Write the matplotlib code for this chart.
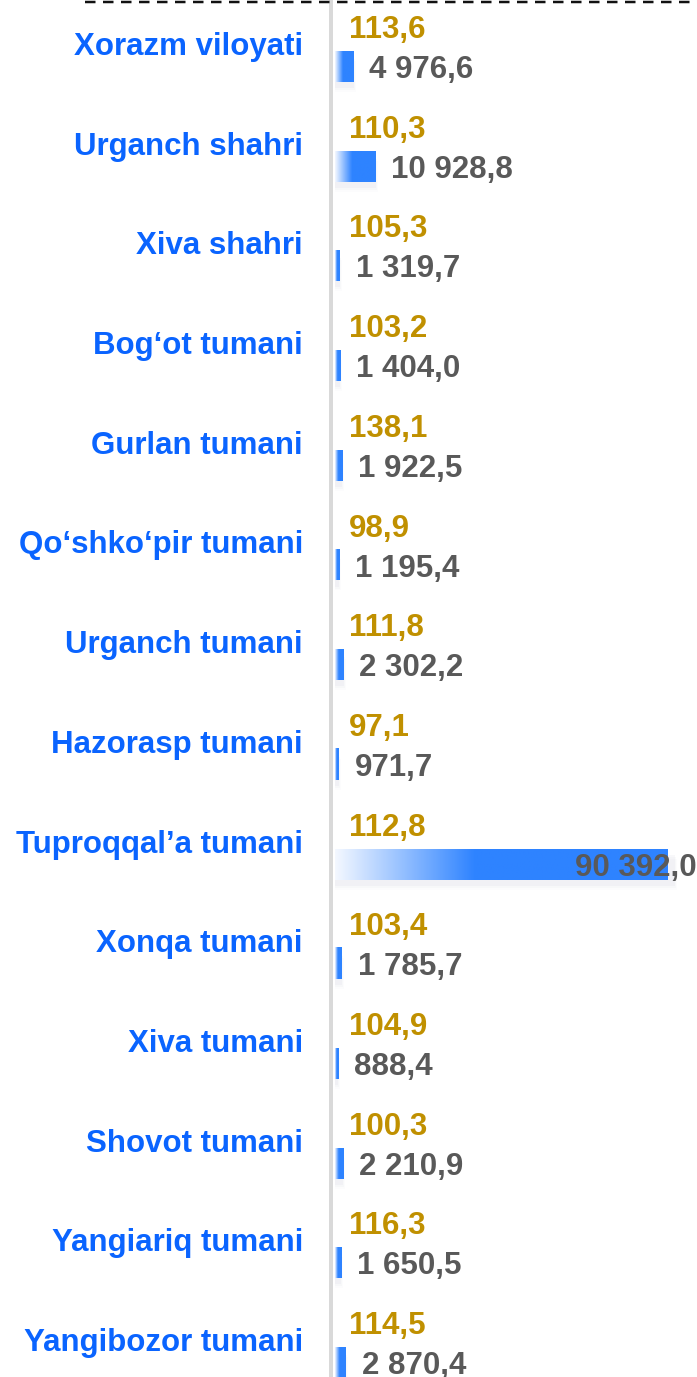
import matplotlib.pyplot as plt
import numpy as np
from matplotlib.colors import LinearSegmentedColormap
from matplotlib.lines import Line2D

# data
regions = ['Xorazm viloyati', 'Urganch shahri', 'Xiva shahri', 'Bog‘ot tumani',
           'Gurlan tumani', 'Qo‘shko‘pir tumani', 'Urganch tumani', 'Hazorasp tumani',
           'Tuproqqal’a tumani', 'Xonqa tumani', 'Xiva tumani', 'Shovot tumani',
           'Yangiariq tumani', 'Yangibozor tumani']
growth = [113.6, 110.3, 105.3, 103.2, 138.1, 98.9, 111.8, 97.1, 112.8, 103.4,
          104.9, 100.3, 116.3, 114.5]
volume = [4976.6, 10928.8, 1319.7, 1404.0, 1922.5, 1195.4, 2302.2, 971.7,
          90392.0, 1785.7, 888.4, 2210.9, 1650.5, 2870.4]

BLUE = '#2E83FF'
LABEL = '#0A64FF'
GOLD = '#C09000'
GRAY = '#595959'
FONT = 'Liberation Sans'
FS = 22.5
PX = 0.72  # points per pixel at dpi 100


def fmt(v):
    return f'{v:,.1f}'.replace(',', ' ').replace('.', ',')


def create_chart():
    W, H = 697, 1377
    fig = plt.figure(figsize=(W / 100, H / 100), dpi=100)
    x0 = 335
    ax = fig.add_axes([x0 / W, 0, (W - x0) / W, 1])

    # pixel layout of rows
    row0, step = 66.5, 99.7
    scale = 333 / max(volume)  # px per unit
    xmax = (W - x0) / scale
    bar_h = 31 / step

    cmap = LinearSegmentedColormap.from_list(
        'grad', [(0, '#F4F8FF'), (0.42, BLUE), (1, BLUE)])
    grad = np.linspace(0, 1, 256).reshape(1, -1)

    for i, v in enumerate(volume):
        # soft shadow below bar
        for k, a in enumerate([0.12, 0.08, 0.05]):
            off = (6 + 2 * k) / step
            ax.barh(i + off, v * 1.02 + (k * 2) / scale, height=bar_h,
                    left=-(k) / scale, color='#C8CCD8', alpha=a, zorder=1,
                    linewidth=0)
        ax.imshow(grad, cmap=cmap, aspect='auto', interpolation='bilinear',
                  extent=(0, v, i + bar_h / 2, i - bar_h / 2), zorder=2)

        ax.annotate(regions[i], xy=(0, i), xytext=(-32 * PX, 11.5 * PX),
                    textcoords='offset points', ha='right', va='baseline',
                    fontsize=FS, fontweight='bold', color=LABEL, family=FONT,
                    annotation_clip=False)
        ax.annotate(fmt(growth[i]), xy=(0, i), xytext=(14 * PX, 28.5 * PX),
                    textcoords='offset points', ha='left', va='baseline',
                    fontsize=FS, fontweight='bold', color=GOLD, family=FONT)
        if v == max(volume):
            ax.annotate(fmt(v), xy=(v, i), xytext=(29 * PX, -11.5 * PX),
                        textcoords='offset points', ha='right', va='baseline',
                        fontsize=FS, fontweight='bold', color=GRAY, family=FONT,
                        zorder=3)
        else:
            ax.annotate(fmt(v), xy=(v, i), xytext=(16 * PX, -11.5 * PX),
                        textcoords='offset points', ha='left', va='baseline',
                        fontsize=FS, fontweight='bold', color=GRAY, family=FONT,
                        zorder=3)

    ax.set_xlim(0, xmax)
    ax.set_ylim((H - row0) / step, -row0 / step)

    for s in ['top', 'right', 'bottom']:
        ax.spines[s].set_visible(False)
    ax.spines['left'].set_position(('outward', 3))
    ax.spines['left'].set_color('#D9D9D9')
    ax.spines['left'].set_linewidth(4 * PX)
    ax.set_xticks([])
    ax.set_yticks([])
    ax.patch.set_alpha(0)

    # dashed line at top
    fig.add_artist(Line2D([85 / W, 1], [1 - 2 / H, 1 - 2 / H],
                          transform=fig.transFigure, color='#111111',
                          linewidth=2.5 * PX, linestyle=(0, (4.2, 3))))

    fig.savefig('out.png', dpi=100)


if __name__ == '__main__':
    create_chart()
